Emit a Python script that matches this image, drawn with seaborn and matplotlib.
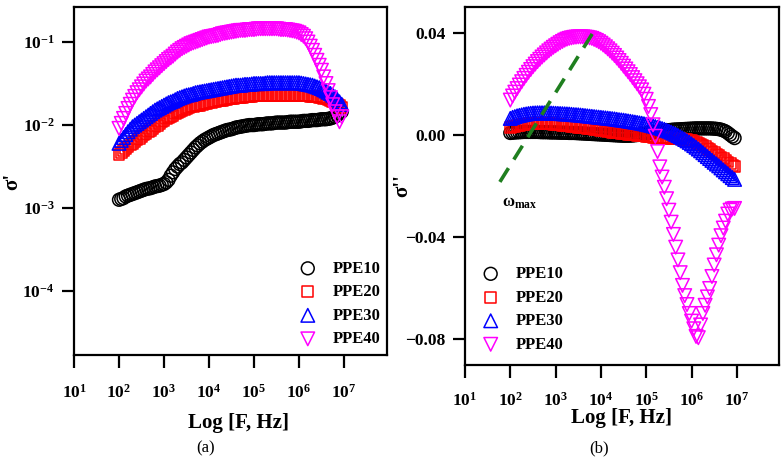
import numpy as np
import pandas as pd
import seaborn as sns
import matplotlib.pyplot as plt
from matplotlib.ticker import NullLocator, FixedLocator

# log10 of frequency (Hz), 2.00 ... 6.95 in steps of 0.05
log_f = [2.00, 2.05, 2.10, 2.15, 2.20, 2.25, 2.30, 2.35, 2.40, 2.45,
         2.50, 2.55, 2.60, 2.65, 2.70, 2.75, 2.80, 2.85, 2.90, 2.95,
         3.00, 3.05, 3.10, 3.15, 3.20, 3.25, 3.30, 3.35, 3.40, 3.45,
         3.50, 3.55, 3.60, 3.65, 3.70, 3.75, 3.80, 3.85, 3.90, 3.95,
         4.00, 4.05, 4.10, 4.15, 4.20, 4.25, 4.30, 4.35, 4.40, 4.45,
         4.50, 4.55, 4.60, 4.65, 4.70, 4.75, 4.80, 4.85, 4.90, 4.95,
         5.00, 5.05, 5.10, 5.15, 5.20, 5.25, 5.30, 5.35, 5.40, 5.45,
         5.50, 5.55, 5.60, 5.65, 5.70, 5.75, 5.80, 5.85, 5.90, 5.95,
         6.00, 6.05, 6.10, 6.15, 6.20, 6.25, 6.30, 6.35, 6.40, 6.45,
         6.50, 6.55, 6.60, 6.65, 6.70, 6.75, 6.80, 6.85, 6.90, 6.95]

# (a) sigma' read as log10 values
sp_ppe10 = [-2.900, -2.890, -2.880, -2.860, -2.850, -2.840, -2.830, -2.820, -2.810, -2.800,
            -2.790, -2.780, -2.770, -2.765, -2.760, -2.750, -2.740, -2.735, -2.730, -2.720,
            -2.710, -2.690, -2.660, -2.610, -2.570, -2.530, -2.500, -2.470, -2.450, -2.420,
            -2.390, -2.360, -2.330, -2.300, -2.270, -2.245, -2.220, -2.200, -2.180, -2.165,
            -2.150, -2.135, -2.120, -2.110, -2.100, -2.090, -2.080, -2.070, -2.060, -2.055,
            -2.050, -2.040, -2.030, -2.025, -2.020, -2.015, -2.010, -2.005, -2.000, -2.000,
            -2.000, -1.995, -1.990, -1.990, -1.990, -1.985, -1.980, -1.980, -1.980, -1.975,
            -1.970, -1.970, -1.970, -1.970, -1.970, -1.965, -1.960, -1.960, -1.960, -1.960,
            -1.960, -1.955, -1.950, -1.950, -1.950, -1.945, -1.940, -1.940, -1.940, -1.935,
            -1.930, -1.930, -1.930, -1.925, -1.920, -1.910, -1.900, -1.880, -1.860, -1.840]
sp_ppe20 = [-2.360, -2.335, -2.310, -2.285, -2.260, -2.240, -2.220, -2.200, -2.180, -2.160,
            -2.140, -2.120, -2.100, -2.080, -2.060, -2.040, -2.020, -2.000, -1.980, -1.960,
            -1.940, -1.925, -1.910, -1.895, -1.880, -1.865, -1.850, -1.835, -1.820, -1.810,
            -1.800, -1.790, -1.780, -1.775, -1.770, -1.765, -1.760, -1.750, -1.740, -1.735,
            -1.730, -1.725, -1.720, -1.715, -1.710, -1.705, -1.700, -1.695, -1.690, -1.685,
            -1.680, -1.675, -1.670, -1.670, -1.670, -1.665, -1.660, -1.660, -1.660, -1.655,
            -1.650, -1.650, -1.650, -1.645, -1.640, -1.640, -1.640, -1.640, -1.640, -1.640,
            -1.640, -1.640, -1.640, -1.640, -1.640, -1.640, -1.640, -1.640, -1.640, -1.640,
            -1.640, -1.645, -1.650, -1.650, -1.650, -1.655, -1.660, -1.660, -1.660, -1.665,
            -1.670, -1.675, -1.680, -1.690, -1.700, -1.715, -1.730, -1.750, -1.770, -1.790]
sp_ppe30 = [-2.220, -2.185, -2.150, -2.115, -2.080, -2.050, -2.020, -2.000, -1.980, -1.960,
            -1.940, -1.920, -1.900, -1.880, -1.860, -1.840, -1.820, -1.805, -1.790, -1.775,
            -1.760, -1.745, -1.730, -1.720, -1.710, -1.695, -1.680, -1.670, -1.660, -1.650,
            -1.640, -1.635, -1.630, -1.620, -1.610, -1.605, -1.600, -1.595, -1.590, -1.585,
            -1.580, -1.575, -1.570, -1.565, -1.560, -1.555, -1.550, -1.545, -1.540, -1.535,
            -1.530, -1.525, -1.520, -1.520, -1.520, -1.515, -1.510, -1.510, -1.510, -1.505,
            -1.500, -1.500, -1.500, -1.500, -1.500, -1.495, -1.490, -1.490, -1.490, -1.490,
            -1.490, -1.490, -1.490, -1.490, -1.490, -1.490, -1.490, -1.490, -1.490, -1.490,
            -1.490, -1.495, -1.500, -1.505, -1.510, -1.515, -1.520, -1.530, -1.540, -1.550,
            -1.560, -1.575, -1.590, -1.605, -1.620, -1.640, -1.660, -1.690, -1.720, -1.750]
sp_ppe40 = [-2.040, -1.980, -1.920, -1.860, -1.800, -1.750, -1.700, -1.655, -1.610, -1.575,
            -1.540, -1.505, -1.470, -1.445, -1.420, -1.390, -1.360, -1.335, -1.310, -1.285,
            -1.260, -1.235, -1.210, -1.190, -1.170, -1.145, -1.120, -1.100, -1.080, -1.065,
            -1.050, -1.035, -1.020, -1.010, -1.000, -0.990, -0.980, -0.970, -0.960, -0.950,
            -0.940, -0.935, -0.930, -0.925, -0.920, -0.910, -0.900, -0.895, -0.890, -0.885,
            -0.880, -0.875, -0.870, -0.865, -0.860, -0.860, -0.860, -0.855, -0.850, -0.850,
            -0.850, -0.845, -0.840, -0.840, -0.840, -0.840, -0.840, -0.840, -0.840, -0.840,
            -0.840, -0.845, -0.850, -0.850, -0.850, -0.855, -0.860, -0.865, -0.870, -0.880,
            -0.890, -0.910, -0.930, -0.960, -1.000, -1.050, -1.100, -1.160, -1.220, -1.280,
            -1.340, -1.420, -1.500, -1.585, -1.670, -1.755, -1.840, -1.900, -1.960, -1.900]

# (b) sigma''
spp_ppe10 = [0.00080, 0.00090, 0.00100, 0.00105, 0.00110, 0.00115, 0.00120, 0.00120, 0.00120, 0.00120,
             0.00120, 0.00120, 0.00120, 0.00115, 0.00110, 0.00110, 0.00110, 0.00105, 0.00100, 0.00100,
             0.00100, 0.00095, 0.00090, 0.00090, 0.00090, 0.00085, 0.00080, 0.00080, 0.00080, 0.00075,
             0.00070, 0.00065, 0.00060, 0.00055, 0.00050, 0.00045, 0.00040, 0.00035, 0.00030, 0.00025,
             0.00020, 0.00015, 0.00010, 0.00005, 0.00000, -0.00005, -0.00010, -0.00015, -0.00020, -0.00025,
             -0.00030, -0.00030, -0.00030, -0.00025, -0.00020, -0.00010, 0.00000, 0.00015, 0.00030, 0.00045,
             0.00060, 0.00075, 0.00090, 0.00105, 0.00120, 0.00135, 0.00150, 0.00160, 0.00170, 0.00180,
             0.00190, 0.00200, 0.00210, 0.00215, 0.00220, 0.00225, 0.00230, 0.00235, 0.00240, 0.00245,
             0.00250, 0.00255, 0.00260, 0.00260, 0.00260, 0.00260, 0.00260, 0.00260, 0.00260, 0.00255,
             0.00250, 0.00240, 0.00230, 0.00210, 0.00180, 0.00140, 0.00080, 0.00010, -0.00060, -0.00120]
spp_ppe20 = [0.00300, 0.00325, 0.00350, 0.00370, 0.00390, 0.00405, 0.00420, 0.00430, 0.00440, 0.00445,
             0.00450, 0.00455, 0.00460, 0.00460, 0.00460, 0.00455, 0.00450, 0.00445, 0.00440, 0.00430,
             0.00420, 0.00410, 0.00400, 0.00390, 0.00380, 0.00370, 0.00360, 0.00350, 0.00340, 0.00325,
             0.00310, 0.00300, 0.00290, 0.00275, 0.00260, 0.00250, 0.00240, 0.00225, 0.00210, 0.00195,
             0.00180, 0.00170, 0.00160, 0.00145, 0.00130, 0.00115, 0.00100, 0.00090, 0.00080, 0.00065,
             0.00050, 0.00040, 0.00030, 0.00020, 0.00010, 0.00000, -0.00010, -0.00020, -0.00030, -0.00040,
             -0.00050, -0.00060, -0.00070, -0.00080, -0.00090, -0.00095, -0.00100, -0.00105, -0.00110, -0.00115,
             -0.00120, -0.00125, -0.00130, -0.00135, -0.00140, -0.00150, -0.00160, -0.00175, -0.00190, -0.00205,
             -0.00220, -0.00250, -0.00280, -0.00320, -0.00360, -0.00410, -0.00460, -0.00520, -0.00580, -0.00640,
             -0.00700, -0.00760, -0.00820, -0.00880, -0.00940, -0.01000, -0.01060, -0.01120, -0.01180, -0.01240]
spp_ppe30 = [0.00650, 0.00690, 0.00720, 0.00750, 0.00770, 0.00790, 0.00810, 0.00825, 0.00840, 0.00850,
             0.00860, 0.00865, 0.00870, 0.00870, 0.00870, 0.00870, 0.00870, 0.00865, 0.00860, 0.00855,
             0.00850, 0.00845, 0.00840, 0.00835, 0.00830, 0.00825, 0.00820, 0.00810, 0.00800, 0.00795,
             0.00790, 0.00780, 0.00770, 0.00760, 0.00750, 0.00740, 0.00730, 0.00720, 0.00710, 0.00700,
             0.00690, 0.00680, 0.00670, 0.00660, 0.00650, 0.00640, 0.00630, 0.00615, 0.00600, 0.00590,
             0.00580, 0.00565, 0.00550, 0.00535, 0.00520, 0.00505, 0.00490, 0.00475, 0.00460, 0.00440,
             0.00420, 0.00400, 0.00380, 0.00355, 0.00330, 0.00305, 0.00280, 0.00250, 0.00220, 0.00185,
             0.00150, 0.00110, 0.00070, 0.00025, -0.00020, -0.00070, -0.00120, -0.00175, -0.00230, -0.00290,
             -0.00350, -0.00415, -0.00480, -0.00550, -0.00620, -0.00695, -0.00770, -0.00845, -0.00920, -0.00995,
             -0.01070, -0.01140, -0.01210, -0.01290, -0.01370, -0.01445, -0.01520, -0.01595, -0.01670, -0.01740]
spp_ppe40 = [0.0137, 0.0153, 0.0168, 0.0182, 0.0196, 0.0209, 0.0222, 0.0234, 0.0246, 0.0257,
             0.0268, 0.0278, 0.0288, 0.0297, 0.0306, 0.0314, 0.0322, 0.0330, 0.0337, 0.0344,
             0.0350, 0.0356, 0.0362, 0.0367, 0.0372, 0.0376, 0.0379, 0.0381, 0.0383, 0.0384,
             0.0385, 0.0385, 0.0385, 0.0384, 0.0383, 0.0381, 0.0379, 0.0375, 0.0371, 0.0366,
             0.0360, 0.0353, 0.0346, 0.0338, 0.0330, 0.0321, 0.0312, 0.0302, 0.0292, 0.0281,
             0.0270, 0.0259, 0.0248, 0.0237, 0.0225, 0.0213, 0.0201, 0.0189, 0.0177, 0.0160,
             0.0140, 0.0112, 0.0080, 0.0040, -0.0005, -0.0065, -0.0125, -0.0165, -0.0205, -0.0250,
             -0.0295, -0.0342, -0.0390, -0.0440, -0.0490, -0.0540, -0.0590, -0.0630, -0.0665, -0.0700,
             -0.0730, -0.0760, -0.0790, -0.0795, -0.0745, -0.0700, -0.0668, -0.0635, -0.0602, -0.0555,
             -0.0510, -0.0470, -0.0432, -0.0395, -0.0365, -0.0338, -0.0310, -0.0295, -0.0290, -0.0288]

# omega_max guide line (log10 F, sigma'')
wmax_logf = [1.77, 3.89]
wmax_val = [-0.0184, 0.0420]

samples = ['PPE10', 'PPE20', 'PPE30', 'PPE40']
colors = {'PPE10': 'black', 'PPE20': '#ff0000', 'PPE30': '#0000ff', 'PPE40': '#ff00ff'}
markers = {'PPE10': 'o', 'PPE20': 's', 'PPE30': '^', 'PPE40': 'v'}
sizes = {'PPE10': 85, 'PPE20': 62, 'PPE30': 95, 'PPE40': 95}

F = 10 ** np.array(log_f)
df_a = pd.DataFrame({'F': F, 'PPE10': 10 ** np.array(sp_ppe10), 'PPE20': 10 ** np.array(sp_ppe20),
                     'PPE30': 10 ** np.array(sp_ppe30), 'PPE40': 10 ** np.array(sp_ppe40)})
df_b = pd.DataFrame({'F': F, 'PPE10': spp_ppe10, 'PPE20': spp_ppe20,
                     'PPE30': spp_ppe30, 'PPE40': spp_ppe40})

sns.set_style('ticks')
plt.rcParams['font.family'] = ['Liberation Serif', 'DejaVu Serif']
plt.rcParams['font.weight'] = 'bold'
plt.rcParams['axes.labelweight'] = 'bold'
plt.rcParams['text.color'] = 'black'
plt.rcParams['axes.labelcolor'] = 'black'
plt.rcParams['mathtext.fontset'] = 'custom'
plt.rcParams['mathtext.rm'] = 'Liberation Serif:bold'
plt.rcParams['mathtext.bf'] = 'Liberation Serif:bold'
plt.rcParams['mathtext.it'] = 'Liberation Serif:bold'
plt.rcParams['mathtext.default'] = 'bf'

fig = plt.figure(figsize=(7.84, 4.61), dpi=100)
ax1 = fig.add_axes([0.0944, 0.2299, 0.3992, 0.7549])
ax2 = fig.add_axes([0.5931, 0.2083, 0.4005, 0.7765])

for ax, df in [(ax1, df_a), (ax2, df_b)]:
    for i, s in enumerate(samples):
        sns.scatterplot(x=df['F'], y=df[s], ax=ax, marker=markers[s], s=sizes[s],
                        facecolor='none', edgecolor=colors[s], linewidth=1.1,
                        label=s, zorder=3 + i)

# omega_max dashed guide
sns.lineplot(x=10 ** np.array(wmax_logf), y=wmax_val, ax=ax2, color='#1f7f1f',
             linewidth=2.6, zorder=10)
ax2.lines[-1].set_dashes((4.5, 2.8))
ax2.text(10 ** 1.82, -0.0267, r'$\omega_{max}$', fontsize=12, ha='left', va='center')

# axes (a)
ax1.set_xscale('log')
ax1.set_yscale('log')
ax1.set_xlim(10 ** 1, 10 ** 7.956)
ax1.set_ylim(10 ** -4.77, 10 ** -0.578)
ax1.xaxis.set_major_locator(FixedLocator([10.0 ** k for k in range(1, 8)]))
ax1.yaxis.set_major_locator(FixedLocator([10.0 ** k for k in range(-4, 0)]))
ax1.set_xticklabels([r'$10^{%d}$' % k for k in range(1, 8)])
ax1.set_yticklabels([r'$10^{%d}$' % k for k in range(-4, 0)])
ax1.set_ylabel("σ'", fontsize=15)
ax1.yaxis.set_label_coords(-0.166, 0.5)

# axes (b)
ax2.set_xscale('log')
ax2.set_xlim(10 ** 1, 10 ** 7.93)
ax2.set_ylim(-0.0902, 0.0502)
ax2.xaxis.set_major_locator(FixedLocator([10.0 ** k for k in range(1, 8)]))
ax2.set_xticklabels([r'$10^{%d}$' % k for k in range(1, 8)])
ax2.set_yticks([-0.08, -0.04, 0.0, 0.04])
ax2.set_yticklabels(['\u22120.08', '\u22120.04', '0.00', '0.04'])
ax2.set_ylabel("σ''", fontsize=15)
ax2.yaxis.set_label_coords(-0.169, 0.5)

for ax in (ax1, ax2):
    ax.xaxis.set_minor_locator(NullLocator())
    ax.yaxis.set_minor_locator(NullLocator())
    for sp in ax.spines.values():
        sp.set_linewidth(1.6)
        sp.set_color('black')
    ax.tick_params(axis='both', which='major', direction='out', length=9, width=1.6,
                   colors='black', labelcolor='black')
    ax.tick_params(axis='x', labelsize=12.5)
    ax.tick_params(axis='y', pad=5, labelsize=12.5)
    ax.set_xlabel('Log [F, Hz]', fontsize=15, color='black')

ax1.tick_params(axis='x', pad=12)
ax2.tick_params(axis='x', pad=10)
ax1.xaxis.set_label_coords(0.527, -0.166)
ax2.xaxis.set_label_coords(0.5, -0.12)

leg_kw = dict(frameon=False, fontsize=12, handlelength=1.2, handletextpad=0.9,
              labelspacing=0.45, borderpad=0, borderaxespad=0, scatterpoints=1,
              labelcolor='black')
ax1.legend(loc='upper left', bbox_to_anchor=(0.715, 0.271), **leg_kw)
ax2.legend(loc='upper left', bbox_to_anchor=(0.05, 0.276), **leg_kw)

fig.text(0.262, 0.028, '(a)', fontsize=12, fontweight='normal', ha='center', va='center')
fig.text(0.764, 0.028, '(b)', fontsize=12, fontweight='normal', ha='center', va='center')

fig.savefig('out.png', dpi=100)
